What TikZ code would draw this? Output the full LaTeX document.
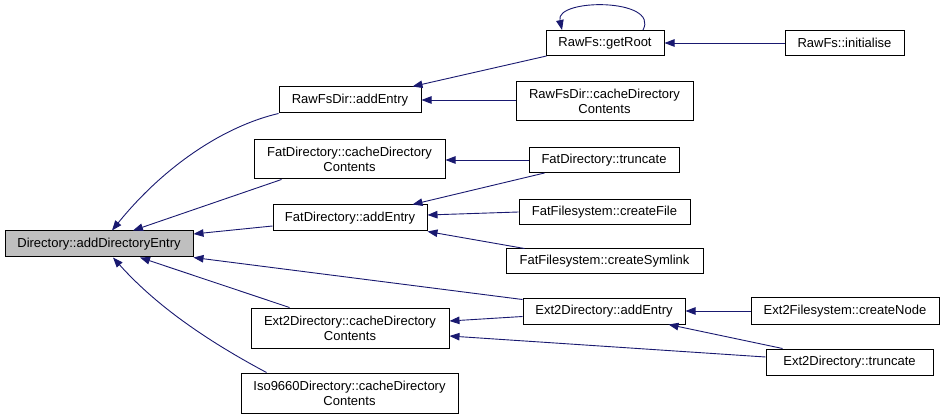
\documentclass[tikz,border=0pt]{standalone}
\usepackage{fontspec}
\setmainfont{Liberation Sans}
\usetikzlibrary{arrows.meta}
\definecolor{edgeblue}{HTML}{191970}
\definecolor{hilite}{HTML}{BFBFBF}
\tikzset{
  box/.style={draw=black, line width=1pt, fill=white, inner sep=0pt, align=center,
              font=\fontsize{13}{15}\selectfont},
  edge/.style={draw=edgeblue, line width=0.9pt, -{Triangle[length=10pt,width=7.5pt]}},
}
\begin{document}
\begin{tikzpicture}[x=1pt,y=-1pt]
\useasboundingbox (0,0) rectangle (944,419);
% nodes
\node[box, fill=hilite, minimum width=188pt, minimum height=26pt] (dir) at (99,244) {Directory::addDirectoryEntry};
\node[box, minimum width=142pt, minimum height=26pt] (rfa) at (350,100) {RawFsDir::addEntry};
\node[box, minimum width=177pt, minimum height=39pt] (rfc) at (604.5,101.5) {RawFsDir::cacheDirectory\\Contents};
\node[box, minimum width=118pt, minimum height=25pt] (grt) at (605,43) {RawFs::getRoot};
\node[box, minimum width=119pt, minimum height=25pt] (ini) at (844.5,43) {RawFs::initialise};
\node[box, minimum width=191pt, minimum height=39pt] (fdc) at (349.5,159.5) {FatDirectory::cacheDirectory\\Contents};
\node[box, minimum width=150pt, minimum height=25pt] (fdt) at (604,160) {FatDirectory::truncate};
\node[box, minimum width=154pt, minimum height=26pt] (fda) at (350,218) {FatDirectory::addEntry};
\node[box, minimum width=171pt, minimum height=25pt] (ffc) at (604.5,212) {FatFilesystem::createFile};
\node[box, minimum width=197pt, minimum height=25pt] (ffs) at (604.5,261.5) {FatFilesystem::createSymlink};
\node[box, minimum width=162pt, minimum height=25pt] (e2a) at (604,311.5) {Ext2Directory::addEntry};
\node[box, minimum width=198pt, minimum height=40pt] (e2c) at (350,328) {Ext2Directory::cacheDirectory\\Contents};
\node[box, minimum width=217pt, minimum height=40pt] (iso) at (349.5,393) {Iso9660Directory::cacheDirectory\\Contents};
\node[box, minimum width=188pt, minimum height=26pt] (e2n) at (845,311) {Ext2Filesystem::createNode};
\node[box, minimum width=167pt, minimum height=26pt] (e2t) at (849.5,362) {Ext2Directory::truncate};
% edges to Directory::addDirectoryEntry
\draw[edge] (rfa.south west) .. controls (225,126) and (165,165) .. ([xshift=13pt]dir.north);
\draw[edge] ([xshift=28pt]fdc.south west) -- ([xshift=34pt]dir.north);
\draw[edge] ([yshift=-8pt]fda.west) -- ([yshift=10pt]dir.east);
\draw[edge] ([yshift=-1pt]e2a.north west) -- (dir.south east);
\draw[edge] ([xshift=39pt]e2c.north west) -- ([xshift=41pt]dir.south);
\draw[edge] ([xshift=26pt]iso.north west) .. controls (215,345) and (160,310) .. ([xshift=14pt]dir.south);
% RawFs
\draw[edge] ([xshift=1pt]grt.south west) -- ([xshift=-9pt]rfa.north east);
\draw[edge] (rfc.west |- rfa.east) -- (rfa.east);
\draw[edge] (ini.west) -- (grt.east);
\draw[edge] ([xshift=38pt]grt.north) .. controls (660,-2) and (555,-2) .. ([xshift=-43pt]grt.north);
% Fat
\draw[edge] (fdt.west) -- (fdt.west -| fdc.east);
\draw[edge] ([xshift=16pt]fdt.south west) -- ([xshift=-15pt]fda.north east);
\draw[edge] (ffc.west) -- ([yshift=3pt]fda.east);
\draw[edge] ([xshift=19pt]ffs.north west) -- (fda.south east);
% Ext2
\draw[edge] ([yshift=-5pt]e2a.west) -- ([yshift=7pt]e2c.east);
\draw[edge] ([yshift=5pt]e2t.west) -- ([yshift=-8pt]e2c.east);
\draw[edge] (e2n.west) -- (e2n.west -| e2a.east);
\draw[edge] ([xshift=17pt]e2t.north west) -- ([xshift=-17pt]e2a.south east);
\end{tikzpicture}
\end{document}
